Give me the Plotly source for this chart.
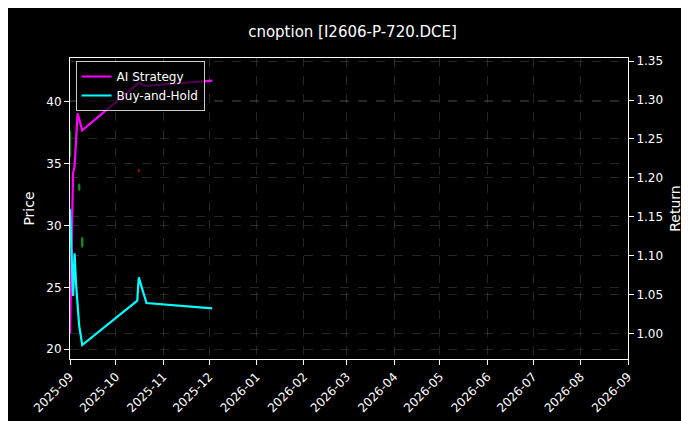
import plotly.graph_objects as go

c_dates = ["2025-09-01", "2025-09-07", "2025-09-09", "2025-10-16"]
c_open = [35.6, 32.9, 28.3, 34.5]
c_close = [37.6, 33.3, 29.0, 34.4]
c_high = [37.7, 33.4, 29.1, 34.6]
c_low = [35.5, 32.8, 28.2, 34.3]

ai_dates = ["2025-09-01", "2025-09-03", "2025-09-04", "2025-09-06", "2025-09-09", "2025-10-16", "2025-10-20", "2025-12-03"]
ai_ret = [1.00, 1.206, 1.215, 1.283, 1.261, 1.322, 1.318, 1.325]

bh_dates = ["2025-09-01", "2025-09-03", "2025-09-04", "2025-09-05", "2025-09-07", "2025-09-09", "2025-10-15", "2025-10-16", "2025-10-21", "2025-12-03"]
bh_ret = [1.16, 1.048, 1.103, 1.062, 1.01, 0.985, 1.042, 1.072, 1.039, 1.032]

ticks = ["2025-%02d-01" % m for m in range(9, 13)] + ["2026-%02d-01" % m for m in range(1, 10)]
tick_text = [t[:7] for t in ticks]

fig = go.Figure()
fig.add_trace(go.Candlestick(x=c_dates, open=c_open, high=c_high, low=c_low, close=c_close,
    increasing=dict(line=dict(color="#1a8a1a", width=1), fillcolor="#1a8a1a"),
    decreasing=dict(line=dict(color="#8a1a1a", width=1), fillcolor="#8a1a1a"),
    whiskerwidth=0, showlegend=False, yaxis="y"))
fig.add_trace(go.Scatter(x=ai_dates, y=ai_ret, mode="lines", name="AI Strategy",
    line=dict(color="#ff00ff", width=2.2), yaxis="y2"))
fig.add_trace(go.Scatter(x=bh_dates, y=bh_ret, mode="lines", name="Buy-and-Hold",
    line=dict(color="#00ffff", width=2.2), yaxis="y2"))

grid = "rgba(110,110,110,0.35)"
fig.update_layout(
    width=689, height=421, paper_bgcolor="black", plot_bgcolor="black",
    font=dict(family="DejaVu Sans", color="white", size=12),
    title=dict(text="cnoption [I2606-P-720.DCE]", x=0.5, xanchor="center", y=0.955, font=dict(size=15)),
    margin=dict(l=62, r=69, t=50, b=70, autoexpand=False),
    xaxis=dict(range=["2025-09-01", "2026-09-01"], tickvals=ticks, ticktext=tick_text, tickangle=-45,
               automargin=False,
               showgrid=True, gridcolor=grid, griddash="dash", gridwidth=0.6, rangeslider=dict(visible=False),
               showline=True, linecolor="white", mirror=True, ticks="outside", tickcolor="white", zeroline=False),
    yaxis=dict(title=dict(text="Price", standoff=8), range=[19.2, 43.56], tickvals=[20, 25, 30, 35, 40],
               automargin=False,
               showgrid=True, gridcolor=grid, griddash="dash", gridwidth=0.6,
               showline=True, linecolor="white", ticks="outside", tickcolor="white", zeroline=False),
    yaxis2=dict(title=dict(text="Return", standoff=8), overlaying="y", side="right", range=[0.967, 1.354],
                tickvals=[1.00, 1.05, 1.10, 1.15, 1.20, 1.25, 1.30, 1.35], tickformat=".2f",
                automargin=False,
                showgrid=True, gridcolor=grid, griddash="dash", gridwidth=0.6,
                showline=True, linecolor="white", ticks="outside", tickcolor="white", zeroline=False),
    legend=dict(x=0.01, y=0.99, xanchor="left", yanchor="top", bgcolor="rgba(0,0,0,0.7)",
                bordercolor="#cccccc", borderwidth=1, font=dict(size=12)),
)
fig.write_html("out.html")
